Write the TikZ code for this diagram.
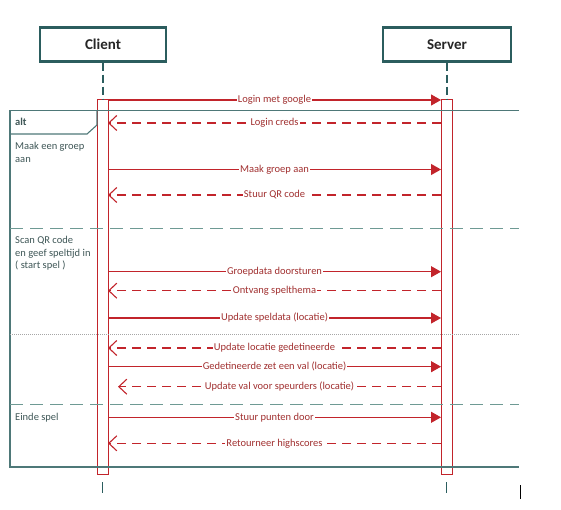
\documentclass[tikz,border=0pt]{standalone}
\usepackage{fontspec}
\setmainfont{Carlito}
\usetikzlibrary{arrows.meta}
\definecolor{tealbox}{HTML}{2B5D5E}
\definecolor{frameline}{HTML}{4E7878}
\definecolor{sepline}{HTML}{6E9A94}
\definecolor{regtext}{HTML}{3E5656}
\definecolor{redline}{HTML}{C2242B}
\definecolor{lblred}{HTML}{A13030}
\tikzset{
  actor/.style={draw=tealbox, line width=2.2pt, fill=white, minimum height=34pt, font=\fontsize{15}{18}\selectfont\bfseries, text=black!85},
  lifeline/.style={draw=tealbox, line width=1.3pt, dash pattern=on 8pt off 4pt},
  actbox/.style={draw=redline, line width=1pt, minimum width=11pt, minimum height=374pt, inner sep=0pt},
  call/.style={draw=redline, line width=1.1pt, -{Triangle[length=10pt,width=11pt]}},
  reply/.style={draw=redline, line width=1.1pt, dash pattern=on 9pt off 6pt, -{Straight Barb[length=8pt,width=15pt,line width=1.1pt]}},
  lbl/.style={fill=white, text=lblred, font=\fontsize{10.5}{12}\selectfont, inner xsep=1pt, inner ysep=0.5pt},
  frame/.style={draw=frameline, line width=1.3pt},
  sepdash/.style={draw=sepline, line width=1.3pt, dash pattern=on 13pt off 7pt},
  sepdot/.style={draw=gray!70, line width=0.6pt, dash pattern=on 1pt off 1pt},
  region/.style={anchor=north west, inner sep=0pt, align=left, text=regtext, font=\fontsize{10.5}{12.5}\selectfont}
}
\begin{document}
\begin{tikzpicture}[x=1pt,y=-1pt]
\useasboundingbox (0,0) rectangle (561,510);
% actors
\node[actor, minimum width=126pt] (client) at (103,44.5) {Client};
\node[actor, minimum width=128pt] (server) at (447,44.5) {Server};
% activation boxes
\node[actbox, fill=white] (ca) at (102.5,287) {};
\node[actbox, fill=white] (sa) at (446.5,287) {};
% lifelines
\draw[lifeline] (client.south) -- (client.south |- ca.north);
\draw[lifeline] (server.south) -- (server.south |- sa.north);
\coordinate (cend) at (102.5,493);
\coordinate (send) at (446.5,493);
\coordinate (cbeg) at (102.5,482);
\coordinate (sbeg) at (446.5,482);
\draw[draw=tealbox, line width=1.1pt] (cbeg) -- (cend);
\draw[draw=tealbox, line width=1.1pt] (sbeg) -- (send);
% frame
\coordinate (ftr) at (519,110.5);
\coordinate (ftl) at (10,110.5);
\coordinate (fbl) at (10,467);
\coordinate (fbr) at (519,467);
\draw[frame] (ftr) -- (ftl) -- (fbl) -- (fbr);
\coordinate (t1) at (10,134);
\coordinate (t2) at (87,134);
\coordinate (t3) at (97,125);
\coordinate (t4) at (97,110.5);
\draw[frame, line width=1.1pt] (t1) -- (t2) -- (t3) -- (t4);
\node[anchor=north west, inner sep=0pt, text=regtext, font=\fontsize{10.5}{12}\selectfont\bfseries] (alt) at (15,117.5) {alt};
% separators
\coordinate (s1l) at (10,228.7);
\coordinate (s1r) at (519,228.7);
\coordinate (s2l) at (10,334);
\coordinate (s2r) at (519,334);
\coordinate (s3l) at (10,404.7);
\coordinate (s3r) at (519,404.7);
\draw[sepdash] (s1l) -- (s1r);
\draw[sepdot] (s2l) -- (s2r);
\draw[sepdash] (s3l) -- (s3r);
% region labels
\node[region] (r1) at (15,142.5) {Maak een groep\\aan};
\node[region] (r2) at (15,236.5) {Scan QR code\\en geef speltijd in\\( start spel )};
\node[region] (r3) at (15,413) {Einde spel};
% messages
\coordinate (c1) at (108,100);   \coordinate (v1) at (441,100);
\coordinate (c2) at (108,123);   \coordinate (v2) at (441,123);
\coordinate (c3) at (108,169.5); \coordinate (v3) at (441,169.5);
\coordinate (c4) at (108,195);   \coordinate (v4) at (441,195);
\coordinate (c5) at (108,271.7); \coordinate (v5) at (441,271.7);
\coordinate (c6) at (108,290.7); \coordinate (v6) at (441,290.7);
\coordinate (c7) at (108,318);   \coordinate (v7) at (441,318);
\coordinate (c8) at (108,348);   \coordinate (v8) at (441,348);
\coordinate (c9) at (108,366.7); \coordinate (v9) at (441,366.7);
\coordinate (c10) at (118,386.7);\coordinate (v10) at (441,386.7);
\coordinate (c11) at (108,417.3);\coordinate (v11) at (441,417.3);
\coordinate (c12) at (108,443.3);\coordinate (v12) at (441,443.3);
\draw[call] (c1) -- node[lbl] {Login met google} (v1);
\draw[reply] (v2) -- node[lbl] {Login creds} (c2);
\draw[call] (c3) -- node[lbl] {Maak groep aan} (v3);
\draw[reply] (v4) -- node[lbl] {Stuur QR code} (c4);
\draw[call] (c5) -- node[lbl] {Groepdata doorsturen} (v5);
\draw[reply] (v6) -- node[lbl] {Ontvang spelthema} (c6);
\draw[call] (c7) -- node[lbl] {Update speldata (locatie)} (v7);
\draw[reply] (v8) -- node[lbl] {Update locatie gedetineerde} (c8);
\draw[call] (c9) -- node[lbl] {Gedetineerde zet een val (locatie)} (v9);
\draw[reply] (v10) -- node[lbl] {Update val voor speurders (locatie)} (c10);
\draw[call] (c11) -- node[lbl] {Stuur punten door} (v11);
\draw[reply] (v12) -- node[lbl] {Retourneer highscores} (c12);
% stray cursor mark
\coordinate (k1) at (520,485);
\coordinate (k2) at (520,499);
\draw[black, line width=1pt] (k1) -- (k2);
\end{tikzpicture}
\end{document}
